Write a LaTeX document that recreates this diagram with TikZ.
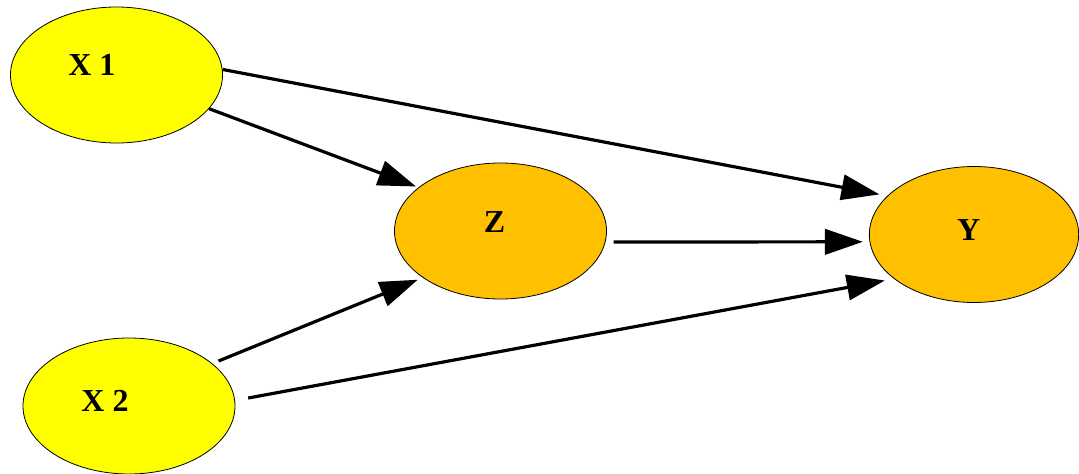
\documentclass[tikz,border=0pt]{standalone}
\usepackage{fontspec}
\setmainfont{Liberation Serif}
\usetikzlibrary{shapes.geometric, arrows.meta}
\definecolor{myyellow}{RGB}{255,255,0}
\definecolor{myorange}{RGB}{255,192,0}

\begin{document}
\begin{tikzpicture}[x=0.75pt, y=-0.75pt,
  var/.style={ellipse, draw=black, line width=0.6pt, inner sep=0pt,
    minimum width=159pt, minimum height=102pt},
  lbl/.style={font=\fontsize{24}{28}\selectfont\bfseries},
  edge/.style={line width=2.4pt, -{Triangle[length=28.5pt, width=19pt]}}]
  \useasboundingbox (0,0) rectangle (1079,474);
  %The variables:
  \node[var, fill=myyellow, label={[lbl, xshift=-18.5pt, yshift=7.5pt]center:X 1}] (x1) at (116.5,75) {};
  \node[var, fill=myyellow, label={[lbl, xshift=-18pt, yshift=4pt]center:X 2}] (x2) at (129,406) {};
  \node[var, fill=myorange, label={[lbl, xshift=-4.5pt, yshift=7pt]center:Z}] (z) at (500.5,231) {};
  \node[var, fill=myorange, minimum width=157pt, label={[lbl, xshift=-4pt, yshift=3pt]center:Y}] (y) at (974,234.5) {};
  %The arrows:
  \draw[edge, shorten >=6pt] (x1.3) -- (y.156);
  \draw[edge, shorten >=2pt] (x1.-20) -- (z.152);
  \draw[edge, shorten <=6pt, shorten >=5pt] (z.-6) -- (y.184);
  \draw[edge, shorten <=5pt, shorten >=4pt] (x2.27) -- (z.211);
  \draw[edge, shorten <=10pt, shorten >=7pt] (x2.3) -- (y.209);
\end{tikzpicture}
\end{document}
